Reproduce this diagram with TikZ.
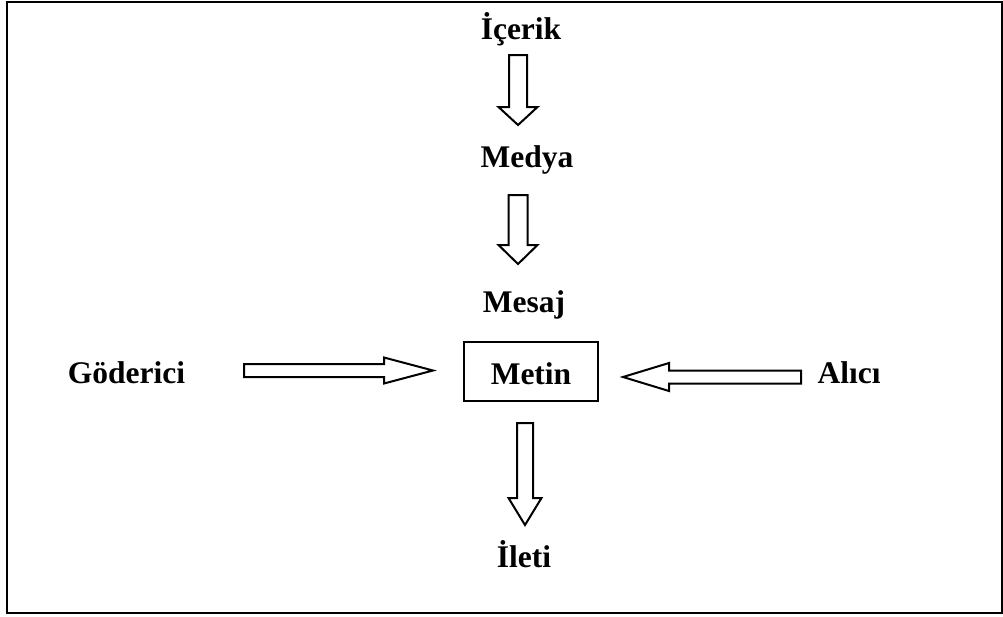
\documentclass[tikz,border=0pt]{standalone}
\usepackage{fontspec}
\setmainfont{Liberation Serif}
\usetikzlibrary{calc}

\tikzset{
  label/.style={font=\fontsize{31.5}{36}\selectfont\bfseries, inner sep=0pt, anchor=base},
  boxed/.style={draw, line width=2pt, inner sep=0pt, minimum width=134pt, minimum height=59pt,
    font=\fontsize{31.5}{36}\selectfont\bfseries, text height=25pt, text depth=0pt},
  hollow/.style={draw, line width=2pt, fill=white, line join=miter},
  frame/.style={draw, line width=2.2pt},
}

% hollow block arrow: tail, tip, shaft half-width, head half-width, head length
\newcommand\hollowarrow[5]{%
  \coordinate (hb) at ($(#2)!#5!(#1)$);
  \draw[hollow] ($(#1)!#3!90:(#2)$) -- ($(hb)!#3!90:(#2)$) -- ($(hb)!#4!90:(#2)$)
    -- (#2) -- ($(hb)!#4!-90:(#2)$) -- ($(hb)!#3!-90:(#2)$) -- ($(#1)!#3!-90:(#2)$) -- cycle;
}

\begin{document}
\begin{tikzpicture}[x=1pt, y=-1pt]
  \useasboundingbox (0,0) rectangle (1003,616);
  \draw[frame] (7,2) rectangle (1002,613);

  % labels
  \node[label] (icerik) at (521,39) {İçerik};
  \node[label] (medya) at (527,167) {Medya};
  \node[label] (mesaj) at (524,312) {Mesaj};
  \node[boxed] (metin) at (531,371.5) {Metin};
  \node[label] (gonderici) at (126.5,383) {Göderici};
  \node[label] (alici) at (849,383) {Alıcı};
  \node[label] (ileti) at (524,567) {İleti};

  % arrow ends
  \coordinate (a1s) at (518,55);    \coordinate (a1e) at (518,125);
  \coordinate (a2s) at (518,195);   \coordinate (a2e) at (518,264);
  \coordinate (a3s) at (244,370.5); \coordinate (a3e) at (433,370.5);
  \coordinate (a4s) at (801,377);   \coordinate (a4e) at (623,377);
  \coordinate (a5s) at (525,423);   \coordinate (a5e) at (525,525);

  \hollowarrow{a1s}{a1e}{9pt}{19.5pt}{18pt}
  \hollowarrow{a2s}{a2e}{9.5pt}{19.5pt}{19pt}
  \hollowarrow{a3s}{a3e}{6.5pt}{13pt}{49pt}
  \hollowarrow{a4s}{a4e}{6.5pt}{14pt}{46pt}
  \hollowarrow{a5s}{a5e}{8pt}{16.5pt}{27pt}
\end{tikzpicture}
\end{document}
